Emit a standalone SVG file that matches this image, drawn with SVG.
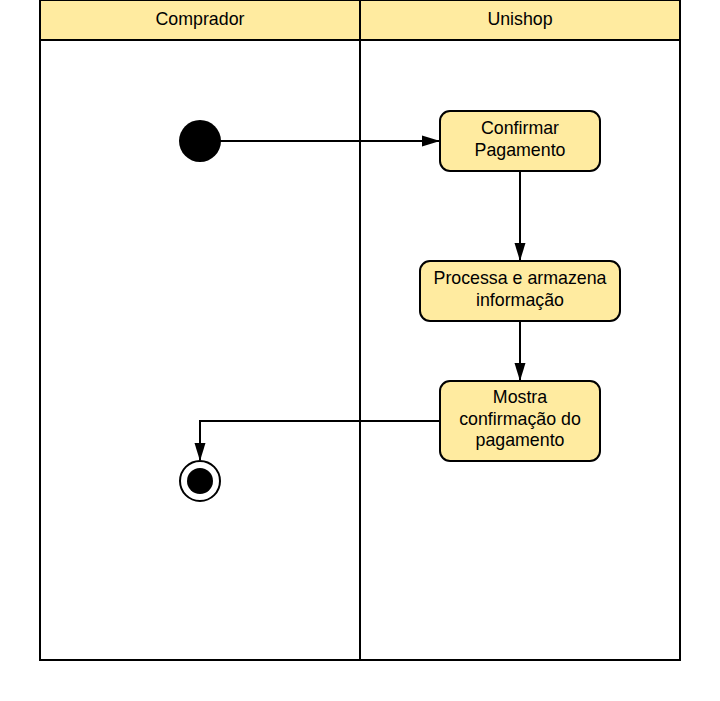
<svg xmlns="http://www.w3.org/2000/svg" width="720" height="701" viewBox="0 0 720 701">
<style>
text{font-family:"Liberation Sans",Arial,sans-serif;font-size:17.8px;fill:#000;text-anchor:middle}
.hdr{fill:#ffeba0;stroke:#000;stroke-width:2}
.lane{fill:#fff;stroke:#000;stroke-width:2}
.act{fill:#ffeba0;stroke:#000;stroke-width:2}
.edge{fill:none;stroke:#000;stroke-width:2}
</style>
<defs>
<marker id="arr" markerWidth="18" markerHeight="12" refX="17" refY="6" orient="auto" markerUnits="userSpaceOnUse">
<path d="M0,0.5 L18,6 L0,11.5 Z" fill="#000"/>
</marker>
</defs>
<rect width="720" height="701" fill="#fff"/>
<g id="lane-comprador">
<rect class="lane" x="40" y="40" width="320" height="620"/>
<rect class="hdr" x="40" y="0" width="320" height="40"/>
<text x="200" y="25">Comprador</text>
</g>
<g id="lane-unishop">
<rect class="lane" x="360" y="40" width="320" height="620"/>
<rect class="hdr" x="360" y="0" width="320" height="40"/>
<text x="520" y="25">Unishop</text>
</g>
<g id="connectors">
<path class="edge" d="M220,141 L439,141" marker-end="url(#arr)"/>
<path class="edge" d="M520,171 L520,260" marker-end="url(#arr)"/>
<path class="edge" d="M520,321 L520,380" marker-end="url(#arr)"/>
<path class="edge" d="M440,421 L200,421 L200,460" marker-end="url(#arr)"/>
</g>
<g id="start">
<circle cx="200" cy="141" r="21" fill="#000"/>
</g>
<g id="confirmar">
<rect class="act" x="440" y="111" width="160" height="60" rx="10"/>
<text x="520" y="134">Confirmar</text>
<text x="520" y="156">Pagamento</text>
</g>
<g id="processa">
<rect class="act" x="420" y="261" width="200" height="60" rx="10"/>
<text x="520" y="284">Processa e armazena</text>
<text x="520" y="306">informação</text>
</g>
<g id="mostra">
<rect class="act" x="440" y="381" width="160" height="80" rx="10"/>
<text x="520" y="403">Mostra</text>
<text x="520" y="425">confirmação do</text>
<text x="520" y="446">pagamento</text>
</g>
<g id="end">
<circle cx="200" cy="481" r="20" fill="#fff" stroke="#000" stroke-width="2"/>
<circle cx="200" cy="481" r="13" fill="#000"/>
</g>
</svg>
